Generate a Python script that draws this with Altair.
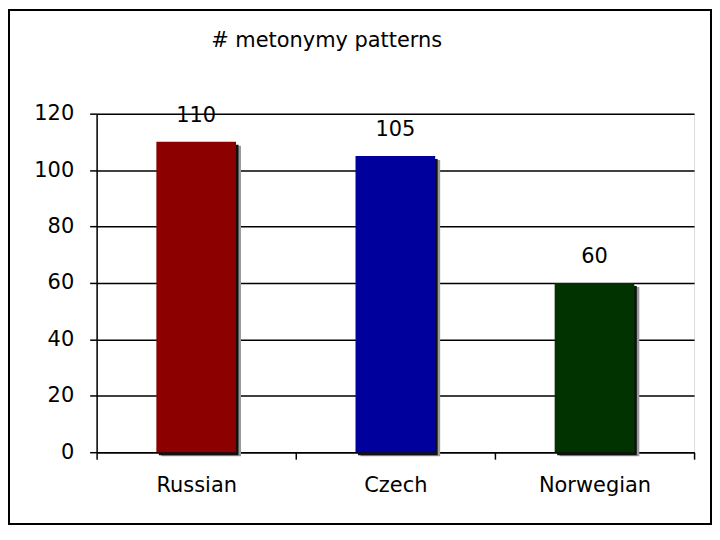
import altair as alt
import pandas as pd

languages = ["Russian", "Czech", "Norwegian"]
patterns = [110, 105, 60]
bar_colors = ["#8c0000", "#00009c", "#003300"]

df = pd.DataFrame({"lang": languages, "n": patterns, "col": bar_colors})

FONT = "DejaVu Sans"

x = alt.X("lang:N", sort=languages, title=None,
          scale=alt.Scale(paddingInner=0, paddingOuter=0),
          axis=alt.Axis(labelAngle=0, labelFontSize=21, labelFont=FONT,
                        labelColor="black", labelPadding=15,
                        tickBand="extent", ticks=True, tickSize=7,
                        tickColor="black", tickWidth=1.5,
                        domainColor="black", domainWidth=1.5, grid=False))
y = alt.Y("n:Q", title=None,
          scale=alt.Scale(domain=[0, 120], nice=False),
          axis=alt.Axis(values=[0, 20, 40, 60, 80, 100, 120],
                        labelFontSize=21, labelFont=FONT, labelColor="black",
                        labelPadding=16, tickSize=7, tickColor="black",
                        tickWidth=1.5, domainColor="black", domainWidth=1.5,
                        grid=True, gridColor="black", gridWidth=1.5,
                        gridOpacity=1))

base = alt.Chart(df)

frame = base.mark_rect(fill=None, stroke="black", strokeWidth=2, clip=False).encode(
    x=alt.value(-88), x2=alt.value(617), y=alt.value(-104), y2=alt.value(412)
).transform_filter(alt.datum.lang == "Russian")

shadow2 = base.mark_bar(color="#9a9a9a", xOffset=5, yOffset=4,
                        width=alt.RelativeBandSize(0.4)).encode(x=x, y=y)
shadow1 = base.mark_bar(color="#111111", xOffset=2.5, yOffset=3,
                        width=alt.RelativeBandSize(0.4)).encode(x=x, y=y)
bars = base.mark_bar(width=alt.RelativeBandSize(0.4)).encode(
    x=x, y=y, color=alt.Color("col:N", scale=None))
labels = base.mark_text(dy=-16, fontSize=21, font=FONT, color="black",
                        baseline="bottom").encode(x=x, y=y, text="n:Q")

chart = alt.layer(shadow2, shadow1, bars, labels, frame).properties(
    width=600, height=340,
    title=alt.TitleParams("# metonymy patterns", anchor="start", frame="group",
                          dx=115, dy=63, fontSize=21, font=FONT,
                          fontWeight="normal", color="black", offset=0,
                          baseline="bottom"),
    autosize=alt.AutoSizeParams(type="none"),
    padding={"left": 89, "top": 105, "right": 18, "bottom": 73},
).configure_view(stroke="#999999", strokeWidth=1).configure(background="white")

chart.save("out.html", embed_options={"renderer": "svg", "actions": False})
